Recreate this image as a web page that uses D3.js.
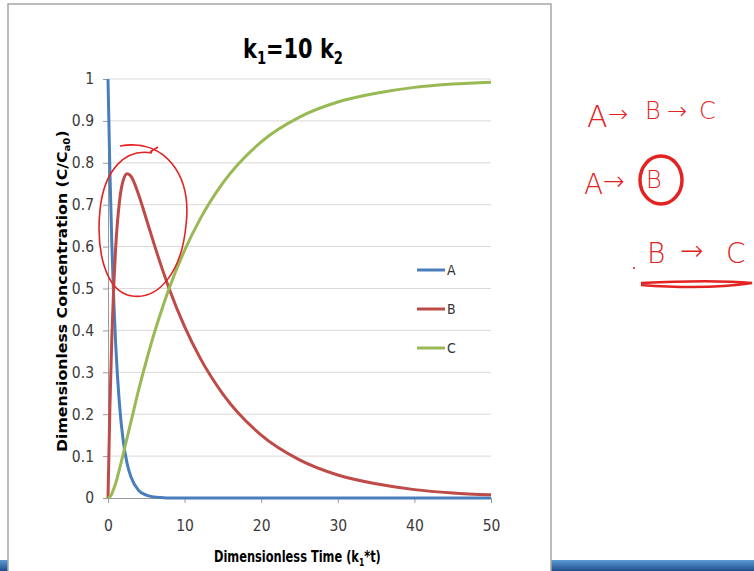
<!DOCTYPE html>
<html><head><meta charset="utf-8">
<script src="https://cdn.jsdelivr.net/npm/d3@7"></script>
<style>body{margin:0;background:#fff;overflow:hidden}svg{display:block}</style>
</head><body>
<script>
const times = [0,0.25,0.5,0.75,1,1.5,2,2.5,3,4,5,6,7,8,10,12,15,20,25,30,35,40,45,50];
const seriesA = [1,0.779,0.607,0.472,0.368,0.223,0.135,0.082,0.05,0.018,0.007,0.0025,0.001,0,0,0,0,0,0,0,0,0,0,0];
const seriesB = [0,0.218,0.383,0.506,0.597,0.708,0.759,0.774,0.768,0.724,0.666,0.607,0.551,0.499,0.409,0.335,0.248,0.150,0.091,0.055,0.034,0.020,0.012,0.0075];
const seriesC = [0,0.003,0.01,0.022,0.035,0.069,0.106,0.144,0.182,0.258,0.327,0.391,0.448,0.501,0.591,0.665,0.752,0.850,0.909,0.945,0.966,0.980,0.988,0.9925];
const seriesNames = ["A","B","C"];
const xTicks = [0,10,20,30,40,50];
const yTicks = [0,0.1,0.2,0.3,0.4,0.5,0.6,0.7,0.8,0.9,1];
const colors = ["#4A7EBB","#BE4B48","#98B954"];

const W = 754, H = 571;
const svg = d3.select("body").append("svg").attr("width", W).attr("height", H);
const defs = svg.append("defs");
const grad = defs.append("linearGradient").attr("id","bar").attr("x1",0).attr("y1",0).attr("x2",0).attr("y2",1);
grad.append("stop").attr("offset","0%").attr("stop-color","#5b9bd5");
grad.append("stop").attr("offset","100%").attr("stop-color","#1f4e8c");

svg.append("rect").attr("x",0).attr("y",560).attr("width",9).attr("height",11).attr("fill","url(#bar)");
svg.append("rect").attr("x",551).attr("y",560).attr("width",203).attr("height",11).attr("fill","url(#bar)");

svg.append("rect").attr("x",8).attr("y",4).attr("width",543).attr("height",580)
  .attr("fill","#fff").attr("stroke","#a6a6a6").attr("stroke-width",1.5);

const x = d3.scaleLinear().domain([0,50]).range([108,491]);
const y = d3.scaleLinear().domain([0,1]).range([498,79]);

const cond = "'DejaVu Sans Condensed','Liberation Sans Narrow',sans-serif";

svg.append("g").selectAll("line").data(yTicks.filter(d=>d>0)).join("line")
  .attr("x1",x(0)).attr("x2",x(50)).attr("y1",d=>y(d)).attr("y2",d=>y(d))
  .attr("stroke","#d9d9d9").attr("stroke-width",1);

const xAxis = svg.append("g").attr("transform",`translate(0,${y(0)})`)
  .call(d3.axisBottom(x).tickValues(xTicks).tickSize(5).tickPadding(17).tickFormat(d3.format("d")));
const yAxis = svg.append("g").attr("transform",`translate(${x(0)},0)`)
  .call(d3.axisLeft(y).tickValues(yTicks).tickSize(5).tickPadding(9).tickFormat(d=>d===0?"0":d===1?"1":d3.format(".1f")(d)));
[xAxis,yAxis].forEach(g=>{
  g.select(".domain").attr("stroke","#9a9a9a");
  g.selectAll(".tick line").attr("stroke","#9a9a9a");
  g.selectAll(".tick text").attr("font-family",cond).attr("font-size",15.5).attr("fill","#3a3a3a");
});

const data = [seriesA, seriesB, seriesC];
const line = d3.line().x((d,i)=>x(times[i])).y(d=>y(d)).curve(d3.curveMonotoneX);
svg.append("g").selectAll("path").data(data).join("path")
  .attr("d", d=>line(d)).attr("fill","none")
  .attr("stroke",(d,i)=>colors[i]).attr("stroke-width",3).attr("stroke-linejoin","round");

const lg = svg.append("g").selectAll("g").data(seriesNames).join("g")
  .attr("transform",(d,i)=>`translate(417,${270+i*39})`);
lg.append("line").attr("x1",0).attr("x2",28).attr("y1",0).attr("y2",0)
  .attr("stroke",(d,i)=>colors[i]).attr("stroke-width",3);
lg.append("text").attr("x",30).attr("y",5).text(d=>d)
  .attr("font-family",cond).attr("font-size",14).attr("fill","#333");

function fitX(g, left, baseline, width, rotate) {
  const w = g.select("text").node().getComputedTextLength();
  const s = width / w;
  if (rotate) g.attr("transform",`translate(${left},${baseline}) rotate(-90) scale(${s},1)`);
  else g.attr("transform",`translate(${left},${baseline}) scale(${s},1)`);
}

const tg = svg.append("g");
const t = tg.append("text").attr("x",0).attr("y",0)
  .attr("font-family",cond).attr("font-weight","bold").attr("font-size",27).attr("fill","#000");
t.append("tspan").text("k");
t.append("tspan").text("1").attr("font-size",17).attr("dy",6);
t.append("tspan").text("=10 k").attr("dy",-6);
t.append("tspan").text("2").attr("font-size",17).attr("dy",6);
fitX(tg, 243, 58, 100);

const xg = svg.append("g");
const xt = xg.append("text").attr("x",0).attr("y",0)
  .attr("font-family",cond).attr("font-weight","bold").attr("font-size",15).attr("fill","#000");
xt.append("tspan").text("Dimensionless Time (k");
xt.append("tspan").text("1").attr("font-size",10).attr("dy",4);
xt.append("tspan").text("*t)").attr("dy",-4);
fitX(xg, 214, 562, 167);

const yg = svg.append("g");
const yt = yg.append("text").attr("x",0).attr("y",0)
  .attr("font-family","'DejaVu Sans',sans-serif").attr("font-weight","bold").attr("font-size",14).attr("fill","#000");
yt.append("tspan").text("Dimensionless Concentration (C/C");
yt.append("tspan").text("a0").attr("font-size",9).attr("dy",3);
yt.append("tspan").text(")").attr("dy",-3);
fitX(yg, 67, 452, 322, true);

const red = "#e32222";
svg.append("path").attr("d","M120,146 C165,138 192,175 186,225 C182,270 160,300 132,296 C105,292 96,250 100,210 C104,170 125,148 152,153 M150,152 L158,147")
  .attr("fill","none").attr("stroke",red).attr("stroke-width",1.6);
const hand = "'DejaVu Sans',sans-serif";
const glyphs = [
  {s:"A", x:587, y:127, fs:30},
  {s:"→", x:608, y:122, fs:24},
  {s:"B", x:645, y:119, fs:24},
  {s:"→", x:667, y:119, fs:24},
  {s:"C", x:699, y:119, fs:24},
  {s:"A", x:584, y:194, fs:28},
  {s:"→", x:603, y:190, fs:26},
  {s:"B", x:646, y:188, fs:24},
  {s:"B", x:647, y:263, fs:28},
  {s:"→", x:680, y:260, fs:28},
  {s:"C", x:726, y:263, fs:28}
];
svg.append("g").selectAll("text").data(glyphs).join("text")
  .attr("x",d=>d.x).attr("y",d=>d.y).attr("font-size",d=>d.fs)
  .attr("font-family",hand).attr("font-weight","200").attr("fill",red).text(d=>d.s);
svg.append("ellipse").attr("cx",661).attr("cy",180).attr("rx",21).attr("ry",24).attr("fill","none").attr("stroke",red).attr("stroke-width",3.5);
svg.append("circle").attr("cx",634).attr("cy",268).attr("r",1).attr("fill",red);
svg.append("path").attr("d","M641,283 C680,281 720,280 752,283 C720,288 680,288 641,285")
  .attr("fill","none").attr("stroke",red).attr("stroke-width",2.5);
</script>
</body></html>
